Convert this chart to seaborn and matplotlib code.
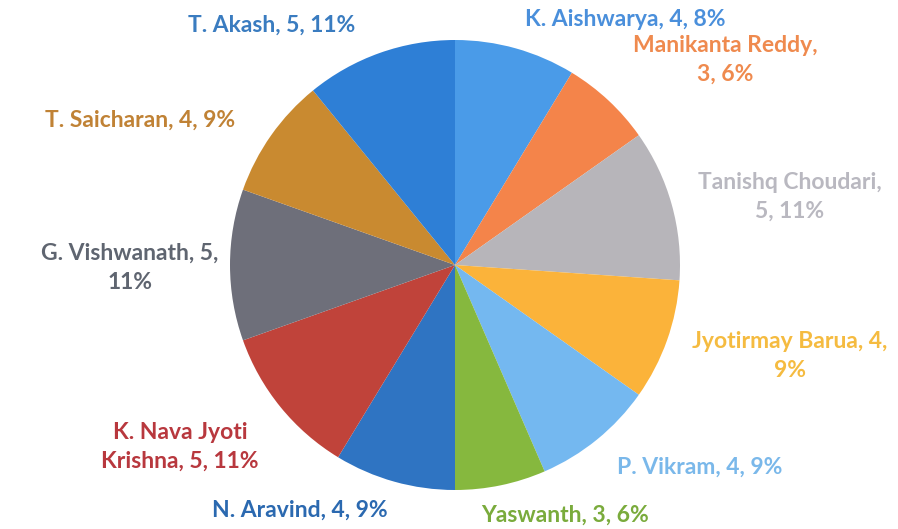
import numpy as np
import seaborn as sns
import matplotlib.pyplot as plt

# datos del grafico
nombres = ["K. Aishwarya", "Manikanta Reddy", "Tanishq Choudari", "Jyotirmay Barua",
           "P. Vikram", "Yaswanth", "N. Aravind", "K. Nava Jyoti Krishna",
           "G. Vishwanath", "T. Saicharan", "T. Akash"]
valores = [4, 3, 5, 4, 4, 3, 4, 5, 5, 4, 5]
porcentajes = ["8%", "6%", "11%", "9%", "9%", "6%", "9%", "11%", "11%", "9%", "11%"]

colores = ["#4a9be8", "#f4844a", "#b7b5ba", "#fbb33a", "#74b8f0", "#86b83e",
           "#2f74c2", "#c0433a", "#6e6f7a", "#c98a30", "#2e7fd6"]
colores_txt = ["#4a8fdb", "#ef8a4e", "#b9b8c0", "#f5bb40", "#7ab8ea", "#7aab3c",
               "#2b69b0", "#b8383e", "#5f6570", "#c08235", "#3a7cc0"]

# saltos de linea como en la imagen
etiquetas = ["K. Aishwarya, 4, 8%", "Manikanta Reddy,\n3, 6%", "Tanishq Choudari,\n5, 11%",
             "Jyotirmay Barua, 4,\n9%", "P. Vikram, 4, 9%", "Yaswanth, 3, 6%",
             "N. Aravind, 4, 9%", "K. Nava Jyoti\nKrishna, 5, 11%", "G. Vishwanath, 5,\n11%",
             "T. Saicharan, 4, 9%", "T. Akash, 5, 11%"]
# posicion de cada etiqueta en pixeles (x, y desde arriba)
pos_etiquetas = [(625, 20), (725, 60), (790, 197), (790, 356), (700, 467), (565, 515),
                 (300, 510), (180, 447), (130, 268), (140, 120), (272, 25)]

sns.set_theme(style="white")
plt.rcParams['font.family'] = ['Lato', 'DejaVu Sans']

W, H = 898, 529
cx, cy, r = 455, 265, 225

fig = plt.figure(figsize=(W / 100, H / 100), dpi=100)
ax = fig.add_axes([0, 0, 1, 1])
ax.pie(valores, colors=colores, startangle=90, counterclock=False,
       wedgeprops=dict(linewidth=0), radius=1)
ax.set_xlim(-cx / r, (W - cx) / r)
ax.set_ylim(-(H - cy) / r, cy / r)
ax.set_aspect('auto')
ax.axis('off')

for et, (px, py), c in zip(etiquetas, pos_etiquetas, colores_txt):
    ax.text(px / W, 1 - py / H, et, transform=ax.transAxes, ha='center', va='center',
            fontsize=16.5, fontweight='bold', color=c, linespacing=1.45)

plt.savefig("out.png", dpi=100)
